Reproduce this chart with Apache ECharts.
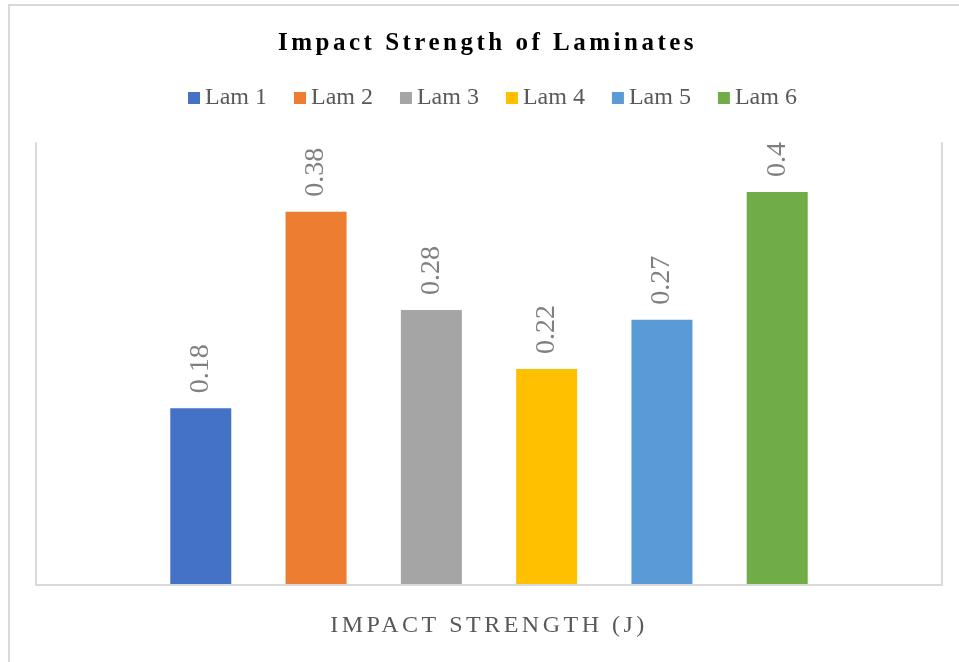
<!DOCTYPE html>
<html>
<head>
<meta charset="utf-8">
<script src="https://cdn.jsdelivr.net/npm/echarts@6/dist/echarts.min.js"></script>
<style>
  html, body { margin: 0; padding: 0; background: #fff; }
  #chart { width: 959px; height: 662px; }
</style>
</head>
<body>
<div id="chart"></div>
<script>
const categories = ['IMPACT STRENGTH (J)'];
const seriesNames = ['Lam 1', 'Lam 2', 'Lam 3', 'Lam 4', 'Lam 5', 'Lam 6'];
const seriesValues = [0.18, 0.38, 0.28, 0.22, 0.27, 0.4];
const palette = ['#4472C4', '#ED7D31', '#A5A5A5', '#FFC000', '#5B9BD5', '#70AD47'];

const serif = '"Liberation Serif", "Times New Roman", serif';
const chart = echarts.init(document.getElementById('chart'), null, { renderer: 'canvas' });

const series = seriesNames.map((name, i) => ({
  name: name,
  type: 'bar',
  data: [seriesValues[i]],
  barWidth: 61,
  barGap: '89%',
  itemStyle: { color: palette[i] },
  label: {
    show: true,
    position: 'top',
    rotate: 90,
    align: 'left',
    verticalAlign: 'middle',
    distance: 15,
    fontFamily: serif,
    fontSize: 28,
    color: '#7f7f7f'
  }
}));

chart.setOption({
  animation: false,
  color: palette,
  title: {
    text: 'Impact Strength of Laminates',
    left: 273,
    top: 26,
    zlevel: 1,
    textStyle: { fontFamily: serif, fontWeight: 'bold', fontSize: 25, color: '#000' }
  },
  legend: {
    data: seriesNames,
    left: 183,
    top: 81,
    icon: 'rect',
    itemWidth: 12,
    itemHeight: 12,
    itemGap: 27,
    textStyle: { fontFamily: serif, fontSize: 24, color: '#595959' }
  },
  graphic: [{
    type: 'rect',
    shape: { x: 9, y: 5, width: 1000, height: 700 },
    style: { fill: 'none', stroke: '#d9d9d9', lineWidth: 2 },
    silent: true
  }],
  grid: { left: 36, right: 17, top: 143, bottom: 77, containLabel: false },
  xAxis: {
    type: 'category',
    data: categories,
    zlevel: 1,
    axisLine: { show: true, lineStyle: { color: '#d9d9d9', width: 2 } },
    axisTick: { show: false },
    axisLabel: { margin: 29, fontFamily: serif, fontSize: 24, color: '#595959' }
  },
  yAxis: [{
    type: 'value',
    min: 0,
    max: 0.45,
    axisLine: { show: true, lineStyle: { color: '#d9d9d9', width: 2 } },
    axisTick: { show: false },
    axisLabel: { show: false },
    splitLine: { show: false }
  }, {
    type: 'value',
    position: 'right',
    min: 0,
    max: 0.45,
    axisLine: { show: true, lineStyle: { color: '#d9d9d9', width: 2 } },
    axisTick: { show: false },
    axisLabel: { show: false },
    splitLine: { show: false }
  }],
  series: series
});

// Letter-spaced text (title and category label) lives on its own canvas layer.
try {
  const zr = chart.getZr();
  zr.refreshImmediately();
  const painter = zr.painter;
  const layer = painter.getLayer ? painter.getLayer(1) : null;
  if (layer && layer.ctx && ('letterSpacing' in layer.ctx)) {
    layer.ctx.letterSpacing = '3.5px';
    if (painter.refresh) { painter.refresh(true); }
  }
} catch (e) { console.log(e); }
</script>
</body>
</html>
